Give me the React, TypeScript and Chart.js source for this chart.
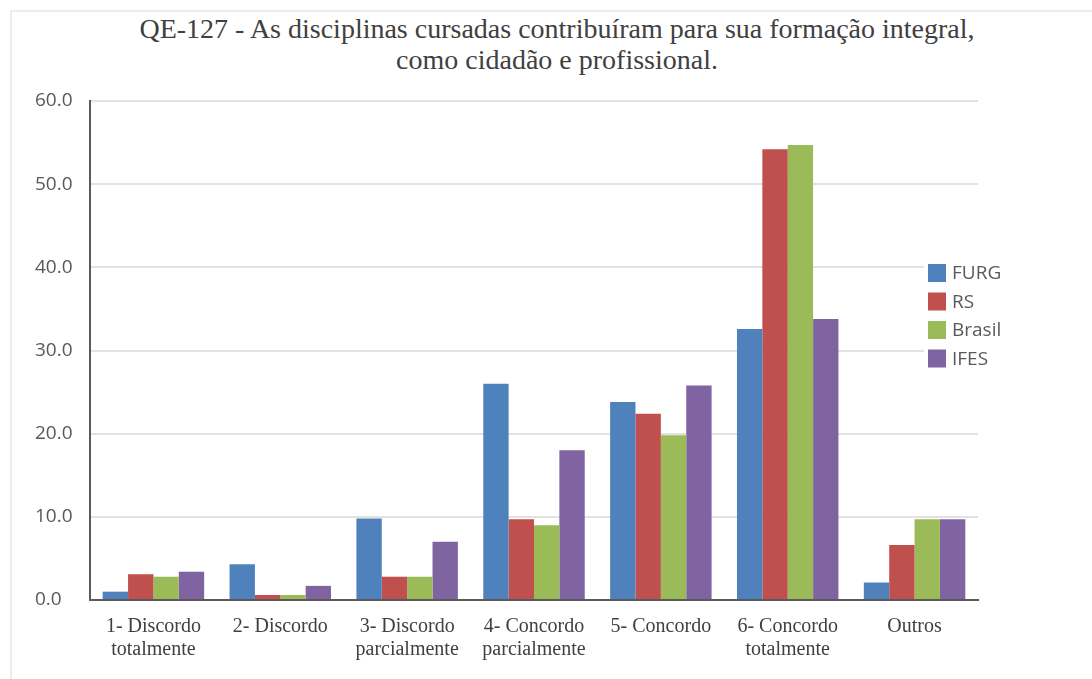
import React, { useEffect, useRef } from 'react';
import { Chart, registerables } from 'chart.js';

Chart.register(...registerables);

const titleLines = [
  'QE-127 - As disciplinas cursadas contribuíram para sua formação integral,',
  'como cidadão e profissional.',
];
const categories = [
  ['1- Discordo', 'totalmente'],
  ['2- Discordo'],
  ['3- Discordo', 'parcialmente'],
  ['4- Concordo', 'parcialmente'],
  ['5- Concordo'],
  ['6- Concordo', 'totalmente'],
  ['Outros'],
];
const seriesNames = ['FURG', 'RS', 'Brasil', 'IFES'];
const furg = [1.0, 4.3, 9.8, 26.0, 23.8, 32.6, 2.1];
const rs = [3.1, 0.6, 2.8, 9.7, 22.4, 54.2, 6.6];
const brasil = [2.8, 0.6, 2.8, 9.0, 19.8, 54.7, 9.7];
const ifes = [3.4, 1.7, 7.0, 18.0, 25.8, 33.8, 9.7];
const seriesColors = ['#4F81BD', '#C0504D', '#9BBB59', '#8064A2'];
const yMin = 0;
const yMax = 60;
const yStep = 10;

const SANS = '"Open Sans", "Noto Sans", sans-serif';
const SERIF = '"Liberation Serif", "DejaVu Serif", serif';

const legendPlugin = {
  id: 'customLegend',
  afterDraw(chart: any) {
    const ctx = chart.ctx;
    const x0 = 928;
    const y0 = 264;
    const gap = 28.5;
    const box = 18;
    ctx.save();
    ctx.fillStyle = '#ffffff';
    ctx.fillRect(924, 255, 90, 118);
    ctx.font = `19px ${SANS}`;
    ctx.textBaseline = 'middle';
    ctx.textAlign = 'left';
    chart.data.datasets.forEach((ds: any, i: number) => {
      const y = y0 + i * gap;
      ctx.fillStyle = ds.backgroundColor;
      ctx.fillRect(x0, y, box, box);
      ctx.fillStyle = '#595959';
      ctx.fillText(ds.label, x0 + box + 6, y + box / 2 + 1);
    });
    ctx.restore();
  },
};

export default function App() {
  const ref = useRef<HTMLCanvasElement | null>(null);

  useEffect(() => {
    if (!ref.current) return;
    const data = [furg, rs, brasil, ifes];
    const chart = new Chart(ref.current, {
      type: 'bar',
      data: {
        labels: categories,
        datasets: seriesNames.map((name, i) => ({
          label: name,
          data: data[i],
          backgroundColor: seriesColors[i],
          borderWidth: 0,
          barPercentage: 1,
          categoryPercentage: 0.8,
        })),
      },
      options: {
        animation: false,
        responsive: false,
        maintainAspectRatio: false,
        layout: { padding: { left: 35, right: 114, top: 101, bottom: 0 } },
        plugins: {
          legend: { display: false },
          title: { display: false },
          tooltip: { enabled: false },
        },
        scales: {
          x: {
            grid: { display: false, drawTicks: false },
            border: { display: true, color: '#5a5a5a', width: 2 },
            ticks: {
              padding: 15,
              color: '#404040',
              maxRotation: 0,
              autoSkip: false,
              font: { family: SERIF, size: 20, lineHeight: 1.15 },
            },
            afterFit: (s: any) => {
              s.height = 79;
            },
          },
          y: {
            min: yMin,
            max: yMax,
            grid: { color: '#e2e2e2', lineWidth: 2, drawTicks: false },
            border: { display: true, color: '#5a5a5a', width: 2 },
            ticks: {
              stepSize: yStep,
              crossAlign: 'far',
              padding: 10,
              color: '#595959',
              font: { family: SANS, size: 19 },
              callback: (v: any) => Number(v).toFixed(1),
            },
            afterFit: (s: any) => {
              s.width = 55;
            },
          },
        },
      },
      plugins: [legendPlugin],
    });
    return () => chart.destroy();
  }, []);

  return (
    <div style={{ position: 'fixed', left: 0, top: 0, width: 1092, height: 679, background: '#ffffff', overflow: 'hidden' }}>
      <div
        style={{
          position: 'absolute',
          left: 10,
          top: 10,
          width: 1200,
          height: 800,
          borderTop: '2px solid #ececec',
          borderLeft: '2px solid #ececec',
        }}
      />
      <div
        style={{
          position: 'absolute',
          left: 0,
          top: 13,
          width: 1114,
          textAlign: 'center',
          fontFamily: SERIF,
          fontSize: 28,
          lineHeight: '31px',
          color: '#404040',
        }}
      >
        {titleLines.map((t, i) => (
          <div key={i}>{t}</div>
        ))}
      </div>
      <canvas ref={ref} width={1092} height={679} style={{ position: 'absolute', left: 0, top: 0 }} />
    </div>
  );
}
